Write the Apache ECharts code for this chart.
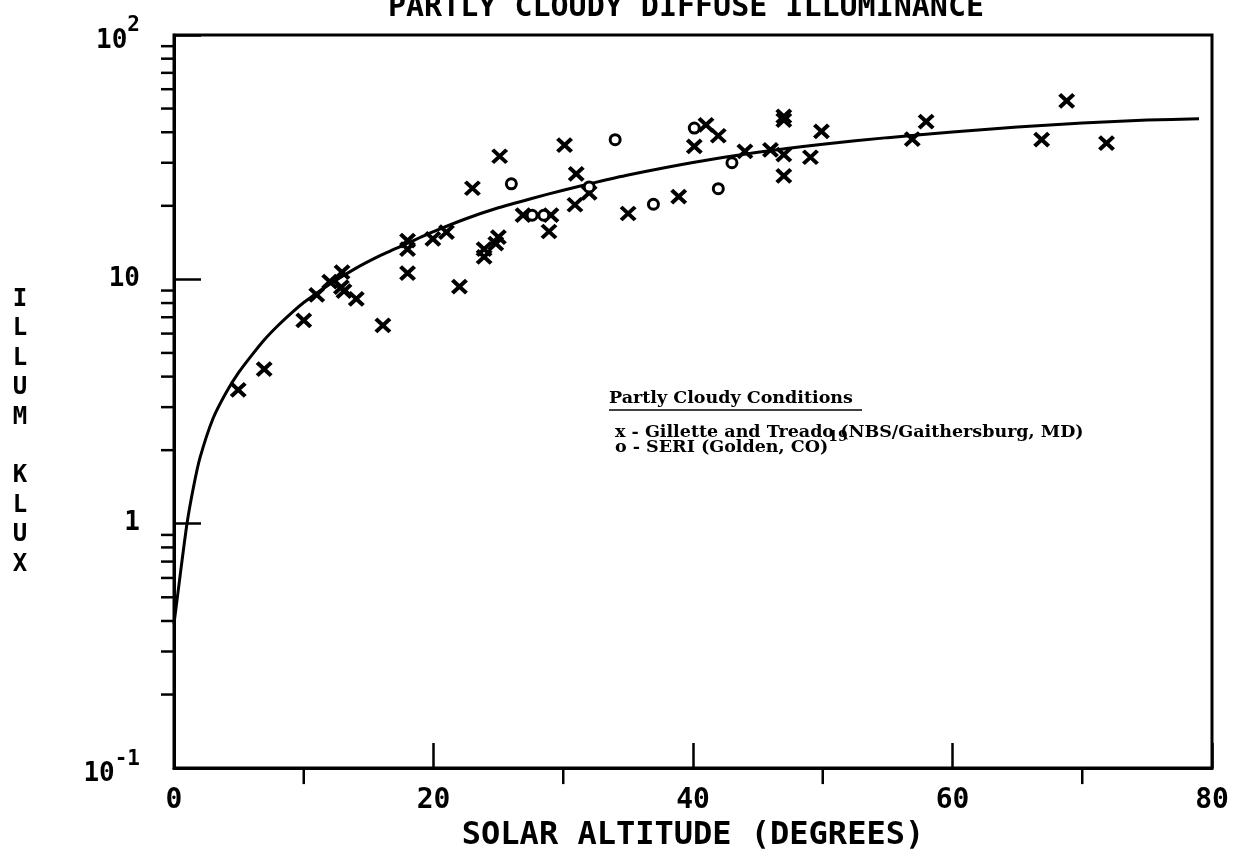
<!DOCTYPE html>
<html><head><meta charset="utf-8">
<script src="https://cdn.jsdelivr.net/npm/echarts@6/dist/echarts.min.js"></script>
<style>html,body{margin:0;padding:0;background:#fff}#c{width:1239px;height:857px}</style>
</head><body><div id="c"></div>
<script>
// ---- text ----
const titleText = 'PARTLY CLOUDY DIFFUSE ILLUMINANCE';
const xAxisName = 'SOLAR ALTITUDE (DEGREES)';
const yAxisLetters = ['I','L','L','U','M','','K','L','U','X'];
const legendHeading = 'Partly Cloudy Conditions';
const legendLineX = 'x - Gillette and Treado (NBS/Gaithersburg, MD)';
const legendLineO = 'o - SERI (Golden, CO)';
const legendRef = '19';

// ---- ticks ----
const xMinorTicks = [10, 30, 50, 70];
const yMinorTicks = [0.2,0.3,0.4,0.5,0.6,0.7,0.8,0.9, 2,3,4,5,6,7,8,9, 20,30,40,50,60,70,80,90];

// ---- data: Gillette and Treado (x) ----
const gilletteAlt = [4.95, 6.95, 10.0, 11.0, 12.0, 12.95, 12.9, 13.1, 14.05, 16.1, 18.0, 18.0, 18.0, 19.95, 21.0, 22.0, 23.0, 23.9, 23.9, 25.0, 24.8, 25.1, 26.9, 29.05, 28.9, 30.1, 31.0, 30.9, 32.0, 35.0, 38.9, 40.1, 41.0, 41.95, 44.0, 45.97, 47.0, 47.0, 47.0, 47.0, 49.05, 49.9, 56.9, 57.97, 66.87, 68.8, 71.87];
const gilletteIllum = [3.53, 4.29, 6.8, 8.64, 9.78, 10.7, 9.3, 8.95, 8.32, 6.48, 14.4, 13.3, 10.6, 14.65, 15.6, 9.33, 23.6, 13.3, 12.35, 14.9, 14.0, 31.9, 18.3, 18.3, 15.7, 35.4, 27.0, 20.2, 22.6, 18.6, 21.8, 35.0, 42.9, 38.7, 33.4, 33.9, 46.5, 44.8, 32.4, 26.5, 31.6, 40.3, 37.5, 44.2, 37.3, 53.8, 36.1];

// ---- data: SERI (o) ----
const seriAlt = [26.0, 27.6, 28.5, 32.0, 34.0, 36.95, 40.1, 41.95, 43.0];
const seriIllum = [24.6, 18.3, 18.3, 23.9, 37.3, 20.3, 41.6, 23.5, 30.0];

// ---- fitted curve ----
const curveAlt = [0, 0.5, 1, 1.5, 2, 3, 4, 5, 6, 7, 8, 9, 10, 12, 14, 16, 18, 20, 22.5, 25, 27.5, 30, 32.5, 35, 40, 45, 50, 55, 60, 65, 70, 75, 79];
const curveIllum = [0.389, 0.631, 1.0, 1.41, 1.86, 2.69, 3.43, 4.17, 4.90, 5.69, 6.46, 7.24, 8.04, 9.55, 11.09, 12.59, 14.06, 15.67, 17.70, 19.63, 21.38, 23.17, 24.95, 26.73, 30.06, 33.11, 35.73, 38.02, 40.09, 41.98, 43.65, 44.87, 45.39];

const zip = (a, b) => a.map((v, i) => [v, b[i]]);
const MONO = 'DejaVu Sans Mono';
const LEG = 'DejaVu Serif';
const LEGFONT = 'bold 17.5px "DejaVu Serif"';
const chart = echarts.init(document.getElementById('c'), null, {renderer: 'canvas'});

chart.setOption({
  animation: false,
  backgroundColor: '#fff',
  title: {
    text: titleText, left: 383, top: -12,
    textStyle: {fontFamily: MONO, fontWeight: 'bold', fontSize: 30, color: '#000'}
  },
  grid: {left: 174, right: 27, top: 35, bottom: 81, show: true, borderColor: '#000', borderWidth: 3, backgroundColor: 'transparent'},
  xAxis: {
    type: 'value', min: 0, max: 80, interval: 20,
    name: xAxisName, nameLocation: 'middle', nameGap: 35,
    nameTextStyle: {fontFamily: MONO, fontWeight: 'bold', fontSize: 32, color: '#000'},
    axisLine: {lineStyle: {color: '#000', width: 3}},
    axisTick: {inside: true, length: 25, lineStyle: {color: '#000', width: 2.5}},
    axisLabel: {margin: 19, fontFamily: MONO, fontWeight: 'bold', fontSize: 28, color: '#000'},
    splitLine: {show: false}
  },
  yAxis: {
    type: 'log', logBase: 10, min: 0.1, max: 100, splitNumber: 3,
    axisLine: {lineStyle: {color: '#000', width: 3}},
    axisTick: {inside: true, length: 27, lineStyle: {color: '#000', width: 2.5}},
    axisLabel: {
      margin: 34, color: '#000', fontFamily: MONO, fontWeight: 'bold', fontSize: 26,
      formatter: function (v) {
        const e = Math.round(Math.log10(v));
        if (e === 2) return '{b|10}{s|2}';
        if (e === -1) return '{b|10}{s|-1}';
        return e === 1 ? '10' : '1';
      },
      rich: {
        b: {fontFamily: MONO, fontWeight: 'bold', fontSize: 26, height: 26, lineHeight: 38, verticalAlign: 'bottom', color: '#000'},
        s: {fontFamily: MONO, fontWeight: 'bold', fontSize: 21, height: 20, lineHeight: 20, verticalAlign: 'top', color: '#000'}
      }
    },
    splitLine: {show: false}
  },
  series: [
    {
      type: 'line', data: zip(curveAlt, curveIllum), showSymbol: false, smooth: 0.2,
      lineStyle: {color: '#000', width: 3}, z: 2, silent: true
    },
    {
      type: 'scatter', data: zip(gilletteAlt, gilletteIllum),
      symbol: 'path://M0 0L10 10M10 0L0 10', symbolSize: [14, 13],
      itemStyle: {color: 'none', borderColor: '#000', borderWidth: 4, opacity: 1}, z: 3
    },
    {
      type: 'scatter', data: zip(seriAlt, seriIllum),
      symbol: 'circle', symbolSize: 10,
      itemStyle: {color: '#fff', borderColor: '#000', borderWidth: 3, opacity: 1}, z: 3
    },
    {
      type: 'custom', clip: false, silent: true,
      data: yMinorTicks.map(v => [0, v]),
      renderItem: function (params, api) {
        const p = api.coord([api.value(0), api.value(1)]);
        return {type: 'line', shape: {x1: p[0] - 13, y1: p[1], x2: p[0], y2: p[1]}, style: {stroke: '#000', lineWidth: 2.5}};
      }
    },
    {
      type: 'custom', clip: false, silent: true,
      data: xMinorTicks.map(v => [v, 0.1]),
      renderItem: function (params, api) {
        const p = api.coord([api.value(0), api.value(1)]);
        return {type: 'line', shape: {x1: p[0], y1: p[1], x2: p[0], y2: p[1] + 16}, style: {stroke: '#000', lineWidth: 2.5}};
      }
    }
  ],
  graphic: [
    {type: 'text', x: 20, y: 432, style: {text: yAxisLetters.join('\n'), font: 'bold 24px "DejaVu Sans Mono"', lineHeight: 29.4, fill: '#000', textAlign: 'center', textVerticalAlign: 'middle'}},
    {type: 'text', x: 609, y: 398, style: {text: legendHeading, font: LEGFONT, fill: '#000', textVerticalAlign: 'middle'}},
    {type: 'line', shape: {x1: 609, y1: 410, x2: 862, y2: 410}, style: {stroke: '#000', lineWidth: 1.5}},
    {type: 'text', x: 615, y: 432, style: {text: legendLineX, font: LEGFONT, fill: '#000', textVerticalAlign: 'middle'}},
    {type: 'text', x: 615, y: 430, style: {
      text: '{t|' + legendLineO + '}{s|' + legendRef + '}', fill: '#000', textVerticalAlign: 'top',
      rich: {
        t: {fontFamily: LEG, fontWeight: 'bold', fontSize: 17.5, height: 17, lineHeight: 26, verticalAlign: 'bottom'},
        s: {fontFamily: LEG, fontWeight: 'bold', fontSize: 14, height: 14, lineHeight: 14, verticalAlign: 'top'}
      }
    }}
  ]
});
</script>
</body></html>
